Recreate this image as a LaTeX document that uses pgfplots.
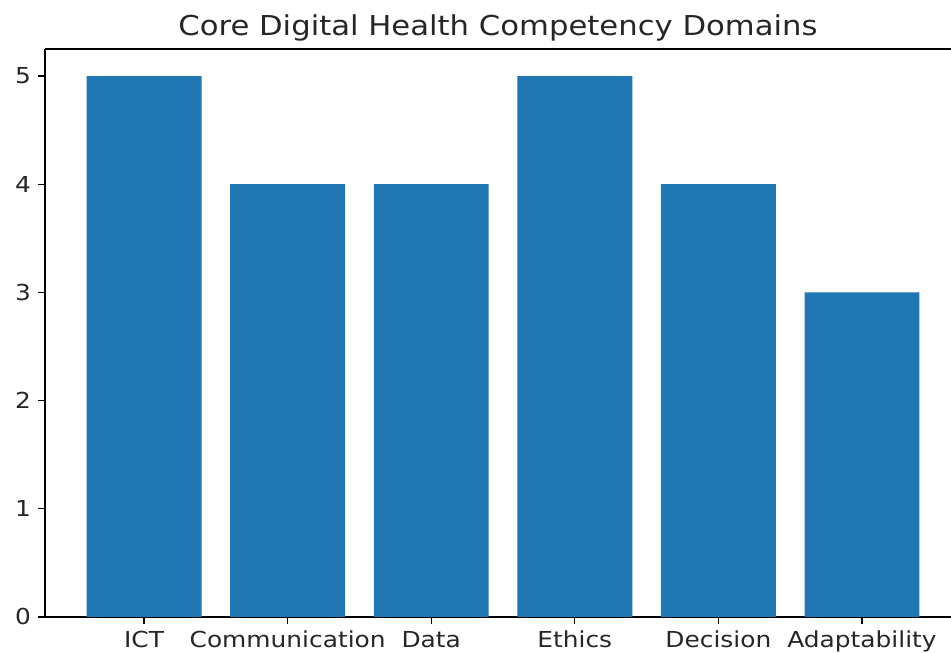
\documentclass[border=0pt]{standalone}
\usepackage{graphicx}
\usepackage{pgfplots}
\pgfplotsset{compat=1.18}
\usepackage{fontspec}
\setmainfont{DejaVu Sans}
\definecolor{mplblue}{HTML}{1F77B4}
\newcommand{\sx}[1]{\scalebox{1.13}[1]{#1}}
\begin{document}
\begin{tikzpicture}
\begin{axis}[
  scale only axis,
  width=453pt, height=284pt,
  xmin=-0.69, xmax=5.62,
  ymin=0, ymax=5.25,
  axis x line*=box,
  axis y line*=left,
  xtick pos=bottom, ytick pos=left,
  tick align=outside,
  major tick length=3.5pt,
  axis line style={line width=0.6pt},
  every tick/.style={black, line width=0.6pt},
  xtick={0,1,2,3,4,5},
  xticklabels={\sx{ICT},\sx{Communication},\sx{Data},\sx{Ethics},\sx{Decision},\sx{Adaptability}},
  ytick={0,1,2,3,4,5},
  yticklabel={\sx{\pgfmathprintnumber{\tick}}},
  /pgf/number format/assume math mode=true,
  tick label style={font=\fontsize{11}{13}\selectfont, text=black!85},
  title={\scalebox{1.12}[1]{Core Digital Health Competency Domains}},
  title style={font=\fontsize{13.7}{16}\selectfont, text=black!85, at={(0.5,1)}, anchor=base, yshift=0.5pt},
]
\addplot[ybar, bar width=0.8, fill=mplblue, draw=none] coordinates {
  (0,5) (1,4) (2,4) (3,5) (4,4) (5,3)
};
\end{axis}
\pgfresetboundingbox
\path[use as bounding box] ([xshift=-22.5pt,yshift=24.5pt]current axis.north west) rectangle ([yshift=-18pt]current axis.south east);
\end{tikzpicture}
\end{document}
